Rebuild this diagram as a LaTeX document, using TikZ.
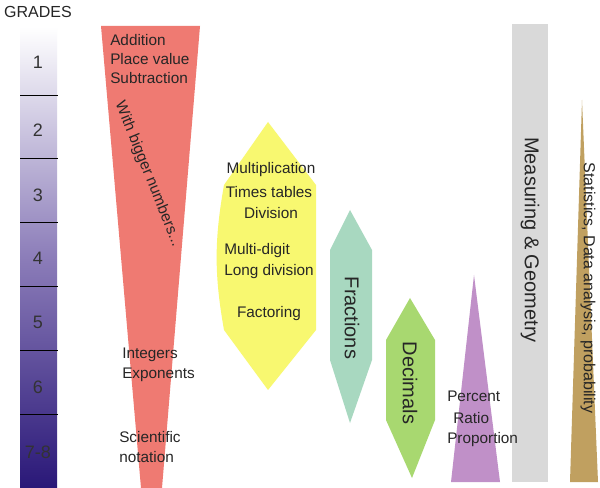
\documentclass[tikz,border=0pt]{standalone}
\usepackage{fontspec}
\setmainfont{Liberation Sans}
\definecolor{cred}{RGB}{239,122,114}
\definecolor{cyel}{RGB}{248,248,112}
\definecolor{cteal}{RGB}{168,216,192}
\definecolor{cgrn}{RGB}{168,216,112}
\definecolor{cpur}{RGB}{192,144,200}
\definecolor{ctan}{RGB}{192,160,96}
\definecolor{cnavy}{RGB}{42,24,120}
\definecolor{cmid}{RGB}{140,125,185}
\begin{document}
\begin{tikzpicture}[x=0.75pt,y=-0.75pt,
  lbl/.style={font=\fontsize{11.5}{13}\selectfont,text=black!85,inner sep=0pt},
  big/.style={font=\fontsize{15}{17}\selectfont,text=black!85,inner sep=0pt,rotate=-90},
  gnum/.style={font=\fontsize{13.5}{15}\selectfont,text=black!80,inner sep=0pt}]
\useasboundingbox (0,0) rectangle (600,488);
\fill[white] (0,0) rectangle (600,488);
% grade bar
\shade[top color=white,bottom color=cnavy,middle color=cmid] (20,27) rectangle (57,487);
\foreach \yy in {95,158,222,286,350,414} \draw[line width=0.7pt] (20,\yy) -- (58,\yy);
\node[lbl,font=\fontsize{12}{13}\selectfont] (gr) at (38,12) {GRADES};
\node[gnum] (g1) at (38,62) {1};
\node[gnum] (g2) at (38,130) {2};
\node[gnum] (g3) at (38,195) {3};
\node[gnum] (g4) at (38,258) {4};
\node[gnum] (g5) at (38,322) {5};
\node[gnum] (g6) at (38,387) {6};
\node[gnum] (g7) at (38,452) {7-8};
% shapes
\fill[cred] (101,26) -- (200,26) -- (162,488) -- (141,488) -- cycle;
\fill[cyel] (268,122) -- (316,185) -- (316,330) -- (268,390) -- (224,330) to[bend left=10] (224,185) -- cycle;
\fill[cteal] (350,210) -- (372,250) -- (372,360) -- (350,423) -- (330,360) -- (330,250) -- cycle;
\fill[cgrn] (410,298) -- (435,340) -- (435,420) -- (412,478) -- (386,420) -- (386,340) -- cycle;
\fill[cpur] (474,275) -- (500,482) -- (451,482) -- cycle;
\fill[black!15] (512,24) rectangle (548,482);
\fill[ctan] (582,100) -- (598,482) -- (570,482) -- cycle;
% texts
\node[lbl,anchor=west] (t1) at (110,40) {Addition};
\node[lbl,anchor=west] (t2) at (110,59) {Place value};
\node[lbl,anchor=west] (t3) at (110,78) {Subtraction};
\node[lbl,rotate=-68] (t4) at (148,174) {With bigger numbers...};
\node[lbl,anchor=west] (t5) at (122,355) {Integers};
\node[lbl,anchor=west] (t6) at (122,375) {Exponents};
\node[lbl,anchor=west] (t7) at (119,437) {Scientific};
\node[lbl,anchor=west] (t8) at (119,457) {notation};
\node[lbl] (y1) at (271,170) {Multiplication};
\node[lbl] (y2) at (269,192) {Times tables};
\node[lbl] (y3) at (271,213) {Division};
\node[lbl,anchor=west] (y4) at (224,251) {Multi-digit};
\node[lbl,anchor=west] (y5) at (224,272) {Long division};
\node[lbl] (y6) at (269,314) {Factoring};
\node[big] (fr) at (352,318) {Fractions};
\node[big] (de) at (410,383) {Decimals};
\node[lbl,anchor=west] (p1) at (447,396) {Percent};
\node[lbl,anchor=west] (p2) at (453,418) {Ratio};
\node[lbl,anchor=west] (p3) at (447,440) {Proportion};
\node[big] (mg) at (530,240) {Measuring \& Geometry};
\node[lbl,rotate=-90,font=\fontsize{12}{13}\selectfont] (st) at (588,288) {Statistics, Data analysis, probability};
\end{tikzpicture}
\end{document}
